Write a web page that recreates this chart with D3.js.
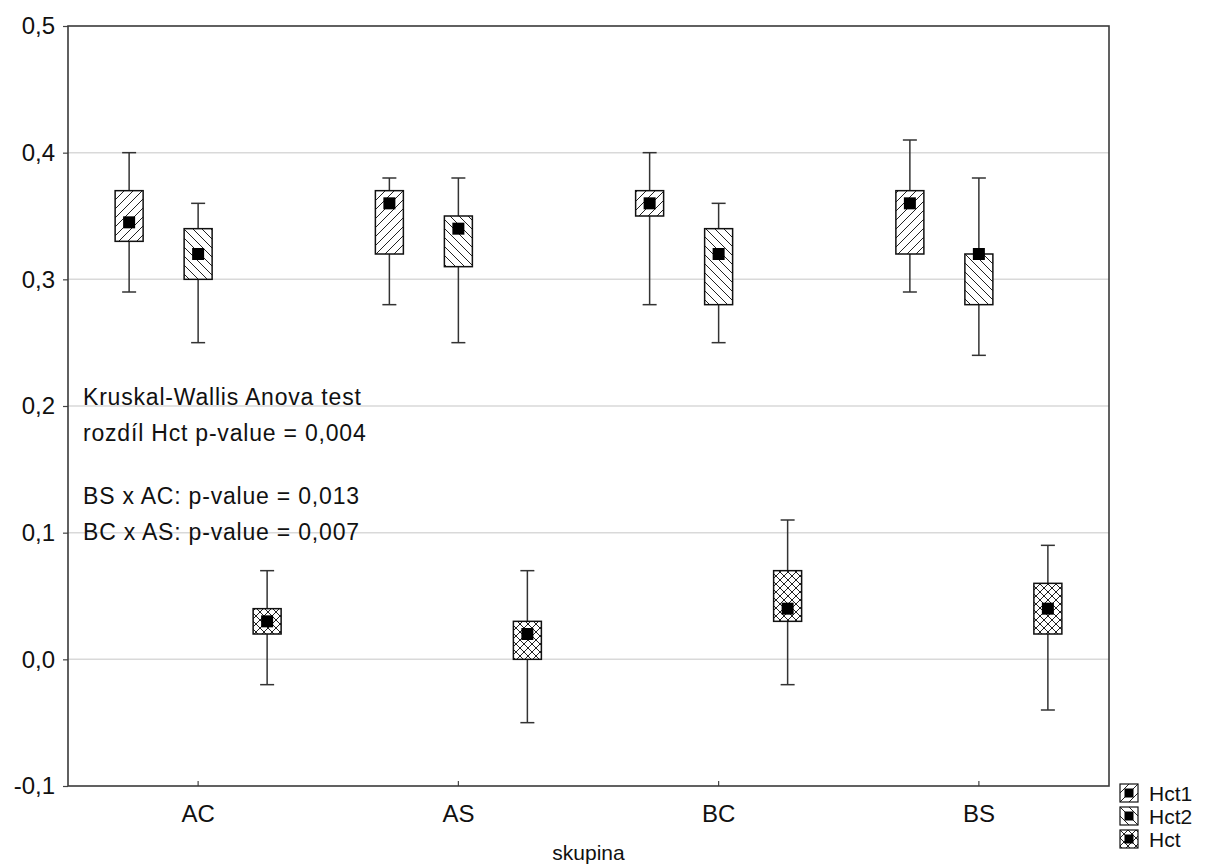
<!DOCTYPE html>
<html>
<head>
<meta charset="utf-8">
<script src="https://cdn.jsdelivr.net/npm/d3@7"></script>
<style>
  html, body { margin: 0; padding: 0; background: #fff; }
  svg { display: block; font-family: "Liberation Sans", Arial, sans-serif; }
</style>
</head>
<body>
<svg id="chart" width="1205" height="867"></svg>
<script>
// Groups on the x axis and the three measured series
const categories = ["AC", "AS", "BC", "BS"];
const series = ["Hct1", "Hct2", "Hct"];

// Per-series summaries, one value per group (AC, AS, BC, BS)
const hct1Median = [0.345, 0.36, 0.36, 0.36];
const hct1BoxLow = [0.33, 0.32, 0.35, 0.32];
const hct1BoxHigh = [0.37, 0.37, 0.37, 0.37];
const hct1Min = [0.29, 0.28, 0.28, 0.29];
const hct1Max = [0.40, 0.38, 0.40, 0.41];

const hct2Median = [0.32, 0.34, 0.32, 0.32];
const hct2BoxLow = [0.30, 0.31, 0.28, 0.28];
const hct2BoxHigh = [0.34, 0.35, 0.34, 0.32];
const hct2Min = [0.25, 0.25, 0.25, 0.24];
const hct2Max = [0.36, 0.38, 0.36, 0.38];

const hctMedian = [0.03, 0.02, 0.04, 0.04];
const hctBoxLow = [0.02, 0.00, 0.03, 0.02];
const hctBoxHigh = [0.04, 0.03, 0.07, 0.06];
const hctMin = [-0.02, -0.05, -0.02, -0.04];
const hctMax = [0.07, 0.07, 0.11, 0.09];

const yTicks = [-0.1, 0.0, 0.1, 0.2, 0.3, 0.4, 0.5];
const yTickLabels = ["-0,1", "0,0", "0,1", "0,2", "0,3", "0,4", "0,5"];

const xTitle = "skupina";
const noteLines = [
  "Kruskal-Wallis Anova test",
  "rozdíl Hct p-value = 0,004",
  "",
  "BS x AC: p-value = 0,013",
  "BC x AS: p-value = 0,007"
];

const summaries = {
  Hct1: { med: hct1Median, lo: hct1BoxLow, hi: hct1BoxHigh, min: hct1Min, max: hct1Max, pat: "pat-fwd" },
  Hct2: { med: hct2Median, lo: hct2BoxLow, hi: hct2BoxHigh, min: hct2Min, max: hct2Max, pat: "pat-back" },
  Hct:  { med: hctMedian,  lo: hctBoxLow,  hi: hctBoxHigh,  min: hctMin,  max: hctMax,  pat: "pat-cross" }
};

const rows = [];
categories.forEach((c, i) => {
  series.forEach(s => {
    const d = summaries[s];
    rows.push({ cat: c, ser: s, med: d.med[i], lo: d.lo[i], hi: d.hi[i], min: d.min[i], max: d.max[i], pat: d.pat });
  });
});

const svg = d3.select("#chart");
const plotLeft = 68, plotRight = 1109, plotTop = 26, plotBottom = 786;

const x = d3.scaleBand().domain(categories).range([plotLeft, plotRight]);
const xs = d3.scalePoint().domain(series).range([-69, 69]);
const y = d3.scaleLinear().domain([-0.1, 0.5]).range([plotBottom, plotTop]);

// Hatch patterns
const defs = svg.append("defs");
const fwd = defs.append("pattern").attr("id", "pat-fwd").attr("patternUnits", "userSpaceOnUse")
  .attr("width", 9).attr("height", 9);
fwd.append("rect").attr("width", 9).attr("height", 9).attr("fill", "#fff");
fwd.append("path").attr("d", "M-1,10 L10,-1 M-1,1 L1,-1 M8,10 L10,8").attr("stroke", "#222").attr("stroke-width", 1);

const back = defs.append("pattern").attr("id", "pat-back").attr("patternUnits", "userSpaceOnUse")
  .attr("width", 9).attr("height", 9);
back.append("rect").attr("width", 9).attr("height", 9).attr("fill", "#fff");
back.append("path").attr("d", "M-1,-1 L10,10 M8,-1 L10,1 M-1,8 L1,10").attr("stroke", "#222").attr("stroke-width", 1);

const cross = defs.append("pattern").attr("id", "pat-cross").attr("patternUnits", "userSpaceOnUse")
  .attr("width", 8).attr("height", 8);
cross.append("rect").attr("width", 8).attr("height", 8).attr("fill", "#fff");
cross.append("path").attr("d", "M0,0 L8,8 M8,0 L0,8").attr("stroke", "#222").attr("stroke-width", 1);

// Gridlines
svg.append("g").selectAll("line").data(yTicks.slice(1, -1)).join("line")
  .attr("x1", plotLeft).attr("x2", plotRight)
  .attr("y1", d => y(d)).attr("y2", d => y(d))
  .attr("stroke", "#d9d9d9").attr("stroke-width", 1.5);

// Y axis labels and ticks
const yAxis = d3.axisLeft(y).tickValues(yTicks).tickSize(5).tickPadding(8)
  .tickFormat((d, i) => yTickLabels[i]);
const gy = svg.append("g").attr("transform", `translate(${plotLeft},0)`).call(yAxis);
gy.select(".domain").remove();
gy.selectAll(".tick line").attr("stroke", "#444").attr("stroke-width", 1.2);
gy.selectAll(".tick text").attr("font-size", 24).attr("fill", "#111")
  .attr("font-family", "'Liberation Sans', Arial, sans-serif");

// X axis labels and inward ticks
const xAxis = d3.axisBottom(x).tickSizeInner(-5).tickSizeOuter(0).tickPadding(19);
const gx = svg.append("g").attr("transform", `translate(0,${plotBottom})`).call(xAxis);
gx.select(".domain").remove();
gx.selectAll(".tick line").attr("stroke", "#444").attr("stroke-width", 1.2);
gx.selectAll(".tick text").attr("font-size", 24).attr("fill", "#111")
  .attr("font-family", "'Liberation Sans', Arial, sans-serif");

// Plot frame
svg.append("rect").attr("x", plotLeft).attr("y", plotTop)
  .attr("width", plotRight - plotLeft).attr("height", plotBottom - plotTop)
  .attr("fill", "none").attr("stroke", "#3a3a3a").attr("stroke-width", 1.6);

// Box-and-whisker marks
const boxW = 28, capW = 14, dot = 12;
const cx = d => x(d.cat) + x.bandwidth() / 2 + xs(d.ser);
const g = svg.append("g");
const item = g.selectAll("g.item").data(rows).join("g").attr("class", "item");

item.append("line")
  .attr("x1", cx).attr("x2", cx)
  .attr("y1", d => y(d.max)).attr("y2", d => y(d.min))
  .attr("stroke", "#333").attr("stroke-width", 1.5);
item.append("line")
  .attr("x1", d => cx(d) - capW / 2).attr("x2", d => cx(d) + capW / 2)
  .attr("y1", d => y(d.max)).attr("y2", d => y(d.max))
  .attr("stroke", "#333").attr("stroke-width", 1.5);
item.append("line")
  .attr("x1", d => cx(d) - capW / 2).attr("x2", d => cx(d) + capW / 2)
  .attr("y1", d => y(d.min)).attr("y2", d => y(d.min))
  .attr("stroke", "#333").attr("stroke-width", 1.5);
item.append("rect")
  .attr("x", d => cx(d) - boxW / 2).attr("width", boxW)
  .attr("y", d => y(d.hi)).attr("height", d => y(d.lo) - y(d.hi))
  .attr("fill", d => `url(#${d.pat})`)
  .attr("stroke", "#111").attr("stroke-width", 1.5);
item.append("rect")
  .attr("x", d => cx(d) - dot / 2).attr("y", d => y(d.med) - dot / 2)
  .attr("width", dot).attr("height", dot).attr("fill", "#000");

// Annotation
const note = svg.append("text").attr("font-size", 23).attr("fill", "#111")
  .attr("letter-spacing", 0.8);
const noteY = [405, 441, 0, 504, 540];
note.selectAll("tspan").data(noteLines).join("tspan")
  .attr("x", 83)
  .attr("y", (d, i) => noteY[i])
  .text(d => d);

// Axis title
svg.append("text").attr("x", (plotLeft + plotRight) / 2).attr("y", 860)
  .attr("text-anchor", "middle").attr("font-size", 21).attr("fill", "#111")
  .text(xTitle);

// Legend
const leg = svg.append("g").selectAll("g").data(series).join("g")
  .attr("transform", (d, i) => `translate(1120,${784 + i * 23})`);
leg.append("rect").attr("width", 18).attr("height", 18)
  .attr("fill", d => `url(#${summaries[d].pat})`)
  .attr("stroke", "#111").attr("stroke-width", 1.2);
leg.append("rect").attr("x", 4.5).attr("y", 4.5).attr("width", 9).attr("height", 9).attr("fill", "#000");
leg.append("text").attr("x", 29).attr("y", 17).attr("font-size", 21).attr("fill", "#111")
  .text(d => d);
</script>
</body>
</html>
